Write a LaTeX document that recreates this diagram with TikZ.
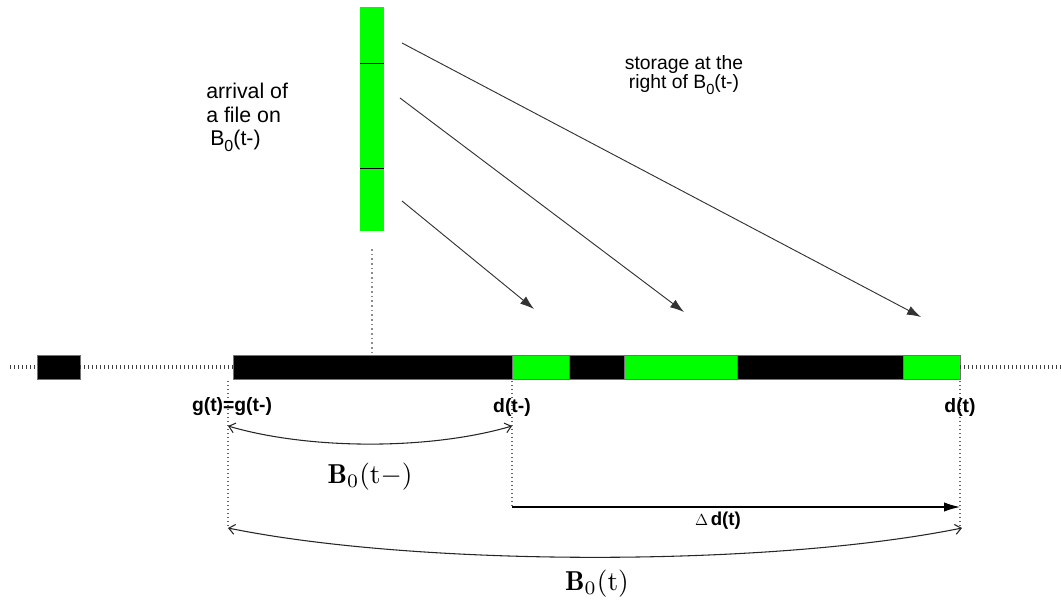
\documentclass[tikz,border=0pt]{standalone}
\usepackage{fontspec}
\newfontfamily\hv{Liberation Sans}
\usetikzlibrary{arrows.meta}
\definecolor{fgreen}{RGB}{0,255,0}
\definecolor{dotblue}{RGB}{80,80,255}
\begin{document}
\begin{tikzpicture}[x=0.75pt,y=-0.75pt,
  seg/.style={draw=black!55, line width=0.6pt},
  blk/.style={seg, fill=black},
  grn/.style={seg, fill=fgreen},
  tdots/.style={black!75, line width=3.6pt, dash pattern=on 1pt off 2pt},
  gdots/.style={black!45, line width=1.1pt, dash pattern=on 1.2pt off 2.3pt},
  bdots/.style={dotblue, line width=1pt, dash pattern=on 1pt off 2pt},
  diag/.style={black!80, line width=0.7pt, -{Latex[length=10.5pt,width=7pt]}},
  dbl/.style={black!85, line width=0.8pt, {Straight Barb[length=4.5pt,width=7.5pt]}-{Straight Barb[length=4.5pt,width=7.5pt]}},
  lbl/.style={font=\hv\bfseries\fontsize{14.5}{16}\selectfont, inner sep=0pt},
  big/.style={inner sep=0pt, scale=2.05},
]
\useasboundingbox (0,0) rectangle (1061,604);

% incoming file (vertical green bar)
\fill[fgreen] (360,7) rectangle (384,231);
\draw[black, line width=0.7pt] (360,63) -- (384,63) (360,168) -- (384,168);

% texts at top
\node[font=\hv\fontsize{16}{17.6}\selectfont, align=left, inner sep=0pt, anchor=north west] (arr) at (206,83)
  {arrival of\\a file on\\\hspace{3pt}B\raisebox{-0.55ex}{\fontsize{12}{12}\selectfont 0}(t-)};
\node[font=\hv\fontsize{14.5}{12.8}\selectfont, align=center, inner sep=0pt, anchor=north] (sto) at (684,55)
  {storage at the\\right of B\raisebox{-0.55ex}{\fontsize{11}{11}\selectfont 0}(t-)};

% diagonal arrows
\coordinate (s1) at (402,201); \coordinate (e1) at (534,309);
\coordinate (s2) at (400,98);  \coordinate (e2) at (684,312);
\coordinate (s3) at (402,43);  \coordinate (e3) at (921,317);
\draw[diag] (s1) -- (e1);
\draw[diag] (s2) -- (e2);
\draw[diag] (s3) -- (e3);

% gray dotted from bar
\coordinate (vt) at (372,249); \coordinate (vb) at (372,352);
\draw[gdots] (vt) -- (vb);

% storage line
\draw[tdots] (10,367) -- (37,367);
\draw[blk] (37,355) rectangle (80,379);
\draw[tdots] (80,367) -- (233,367);
\draw[blk] (233,355) rectangle (512,379);
\draw[grn] (512,355) rectangle (569,379);
\draw[blk] (569,355) rectangle (624.5,379);
\draw[grn] (624.5,355) rectangle (737,379);
\draw[blk] (737,355) rectangle (903,379);
\draw[grn] (903,355) rectangle (960,379);
\draw[tdots] (960,367) -- (1061,367);

% blue guide lines
\coordinate (gT) at (228,381); \coordinate (gB) at (228,528);
\coordinate (dmT) at (512,381); \coordinate (dmB) at (512,507);
\coordinate (dT) at (960,381); \coordinate (dB) at (960,528);
\draw[bdots] (gT) -- (gB);
\draw[bdots] (dmT) -- (dmB);
\draw[bdots] (dT) -- (dB);

% labels under the line
\node[lbl] (g) at (232,407) {g(t)=g(t-)};
\node[lbl] (dm) at (512,407) {d(t-)};
\node[lbl] (d) at (960,407) {d(t)};

% B0(t-)
\coordinate (L1) at (228,426); \coordinate (R1) at (512,426);
\draw[dbl] (L1) .. controls (310,450) and (430,450) .. (R1);
\node[big] (b0m) at (370,477) {$\mathbf{B}_0(\mathrm{t}-)$};

% Delta d(t)
\coordinate (dl) at (512,507); \coordinate (dr) at (960,507);
\draw[black, line width=0.9pt, -{Latex[length=12pt,width=7pt]}] (dl) -- (dr);
\node[inner sep=0pt] (dd) at (718,521) {\fontsize{12}{14}\selectfont$\Delta$\,{\hv\bfseries\fontsize{14}{15}\selectfont d(t)}};

% B0(t)
\coordinate (L2) at (228,528); \coordinate (R2) at (962,528);
\draw[dbl] (L2) .. controls (420,567) and (770,567) .. (R2);
\node[big] (b0) at (597,584) {$\mathbf{B}_0(\mathrm{t})$};
\end{tikzpicture}
\end{document}
